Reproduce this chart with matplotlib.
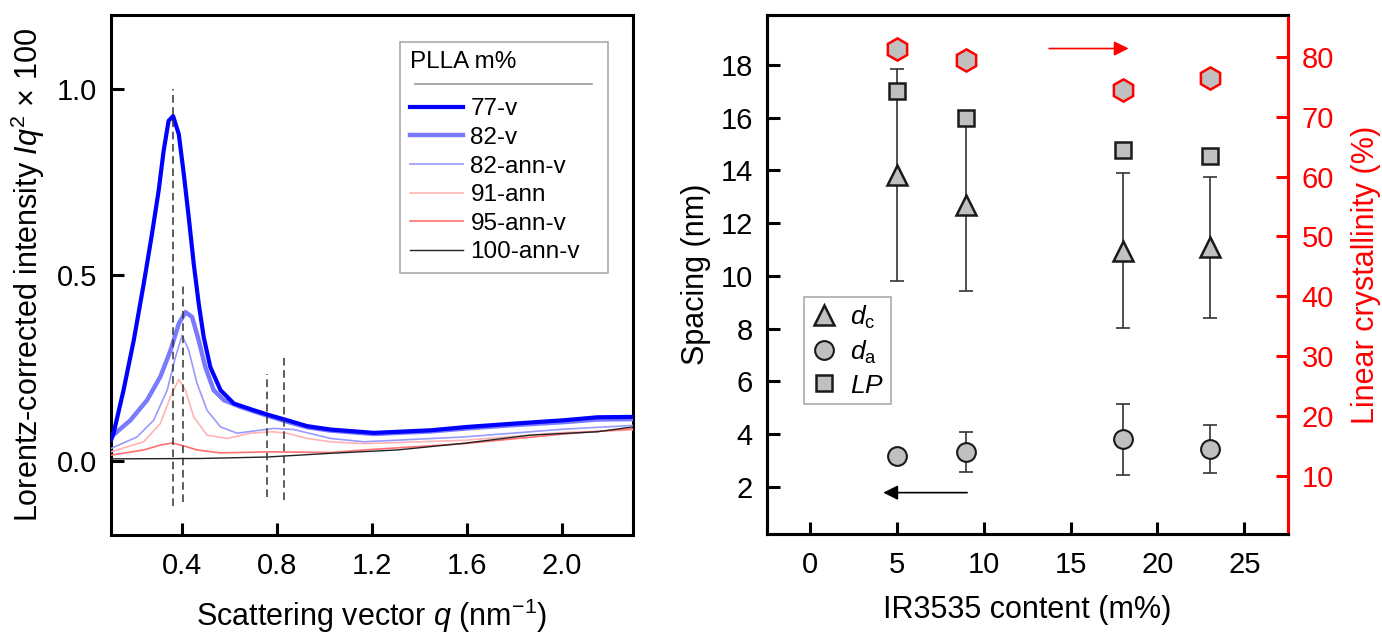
import matplotlib
matplotlib.use("Agg")
import matplotlib.pyplot as plt
from matplotlib.lines import Line2D

plt.rcParams['font.family'] = ['Liberation Sans', 'DejaVu Sans']
plt.rcParams['mathtext.fontset'] = 'custom'
plt.rcParams['mathtext.rm'] = 'Liberation Sans'
plt.rcParams['mathtext.it'] = 'Liberation Sans:italic'

# ---- left panel: Lorentz-corrected SAXS curves ----
q77 = [0.10, 0.111, 0.153, 0.196, 0.238, 0.273, 0.301, 0.322, 0.343, 0.362, 0.386, 0.407,
       0.428, 0.449, 0.47, 0.491, 0.519, 0.562, 0.618, 0.702, 0.766, 0.843, 0.928, 1.026,
       1.209, 1.449, 1.603, 1.80, 2.011, 2.152, 2.30]
i77 = [0.055, 0.074, 0.19, 0.324, 0.476, 0.611, 0.727, 0.834, 0.915, 0.928, 0.879, 0.772,
       0.655, 0.53, 0.423, 0.333, 0.252, 0.19, 0.154, 0.136, 0.123, 0.109, 0.093, 0.084,
       0.075, 0.082, 0.091, 0.10, 0.109, 0.117, 0.118]

q82 = [0.10, 0.182, 0.252, 0.308, 0.351, 0.386, 0.414, 0.442, 0.47, 0.498, 0.533, 0.576,
       0.646, 0.702, 0.766, 0.843, 0.928, 1.026, 1.209, 1.449, 1.603, 1.80, 2.011, 2.152, 2.30]
i82 = [0.064, 0.109, 0.163, 0.226, 0.297, 0.369, 0.40, 0.387, 0.324, 0.252, 0.19, 0.163,
       0.145, 0.133, 0.12, 0.105, 0.09, 0.081, 0.072, 0.079, 0.087, 0.096, 0.104, 0.111, 0.112]

q82a = [0.10, 0.21, 0.28, 0.337, 0.372, 0.40, 0.428, 0.463, 0.505, 0.562, 0.632, 0.702,
        0.787, 0.871, 1.026, 1.167, 1.589, 2.01, 2.30]
i82a = [0.033, 0.064, 0.109, 0.19, 0.279, 0.338, 0.297, 0.208, 0.136, 0.091, 0.074, 0.08,
        0.087, 0.084, 0.06, 0.051, 0.064, 0.085, 0.095]

q91 = [0.10, 0.238, 0.308, 0.351, 0.386, 0.414, 0.449, 0.505, 0.59, 0.688, 0.78, 0.843,
       0.928, 1.026, 1.167, 1.589, 2.01, 2.30]
i91 = [0.024, 0.051, 0.10, 0.172, 0.219, 0.19, 0.118, 0.069, 0.06, 0.074, 0.078, 0.074,
       0.06, 0.051, 0.046, 0.055, 0.076, 0.083]

q95 = [0.10, 0.238, 0.308, 0.358, 0.407, 0.463, 0.562, 0.766, 1.026, 1.167, 1.589, 2.01, 2.30]
i95 = [0.015, 0.029, 0.042, 0.048, 0.04, 0.029, 0.021, 0.024, 0.022, 0.029, 0.046, 0.072, 0.086]

q100 = [0.10, 0.477, 0.759, 1.026, 1.308, 1.589, 1.87, 2.152, 2.30]
i100 = [0.005, 0.006, 0.01, 0.02, 0.029, 0.047, 0.069, 0.078, 0.091]

# peak markers (dashed lines)
peak_q = [0.36, 0.405, 0.759, 0.831]
peak_lo = [-0.122, -0.111, -0.097, -0.106]
peak_hi = [1.0, 0.472, 0.233, 0.281]

# ---- right panel ----
content = [5, 9, 18, 23]
dc = [13.82, 12.68, 10.96, 11.08]
dc_err = [4.03, 3.24, 2.93, 2.67]
da = [3.15, 3.3, 3.8, 3.43]
da_err = [0.0, 0.76, 1.35, 0.9]
lp = [17.0, 16.0, 14.78, 14.56]
xc = [81.3, 79.4, 74.4, 76.4]

fig = plt.figure(figsize=(13.82, 6.33), dpi=100)
ax1 = fig.add_axes([0.0803, 0.1548, 0.3775, 0.8215])
ax2 = fig.add_axes([0.5548, 0.1564, 0.3770, 0.8199])

# left panel
ax1.plot(q77, i77, color='#0000ff', lw=3, label='77-v', zorder=6)
ax1.plot(q82, i82, color='#7a7aff', lw=3.2, label='82-v', zorder=5)
ax1.plot(q82a, i82a, color='#9a9aff', lw=1.2, label='82-ann-v', zorder=4)
ax1.plot(q91, i91, color='#ffb4b4', lw=1.2, label='91-ann', zorder=3)
ax1.plot(q95, i95, color='#ff7070', lw=1.2, label='95-ann-v', zorder=3)
ax1.plot(q100, i100, color='#222222', lw=1.0, label='100-ann-v', zorder=3)
for x, lo, hi in zip(peak_q, peak_lo, peak_hi):
    ax1.plot([x, x], [lo, hi], color='#333333', lw=1.1, ls=(0, (5, 3)), zorder=7)

ax1.set_xlim(0.1, 2.3)
ax1.set_ylim(-0.2, 1.2)
ax1.set_xticks([0.4, 0.8, 1.2, 1.6, 2.0])
ax1.set_yticks([0.0, 0.5, 1.0])
ax1.set_xticklabels(['0.4', '0.8', '1.2', '1.6', '2.0'])
ax1.set_yticklabels(['0.0', '0.5', '1.0'])
ax1.set_xlabel(r'Scattering vector $q$ (nm$^{-1}$)', fontsize=22, labelpad=12)
ax1.set_ylabel(r'Lorentz-corrected intensity $Iq^2$ $\times$ 100', fontsize=22, labelpad=7)

leg1 = ax1.legend(title='PLLA m%', loc='upper left',
                  bbox_to_anchor=(0.554, 0.505, 0.398, 0.4437), mode='expand',
                  borderaxespad=0, fontsize=17.5, title_fontsize=17.5, frameon=True,
                  fancybox=False, edgecolor='#aaaaaa', framealpha=1,
                  handlelength=2.2, handletextpad=0.3, labelspacing=0.27,
                  borderpad=0.4, alignment='left')
leg1.get_frame().set_linewidth(1.2)
leg1._legend_box.sep = 18
sep_line = Line2D([0.583, 0.922], [0.867, 0.867], transform=ax1.transAxes,
                  color='#999999', lw=1.2, zorder=20)
ax1.add_line(sep_line)

# right panel
ax3 = ax2.twinx()
ax2.errorbar(content, dc, yerr=dc_err, fmt='none', ecolor='#333333', elinewidth=1.2,
             capsize=5, capthick=1.2, zorder=2)
ax2.errorbar(content, da, yerr=da_err, fmt='none', ecolor='#333333', elinewidth=1.2,
             capsize=5, capthick=1.2, zorder=2)
ax2.plot(content, lp, 's', ms=12, mfc='#c0c0c0', mec='#1a1a1a', mew=1.8, zorder=3)
ax2.plot(content, dc, '^', ms=15, mfc='#c0c0c0', mec='#1a1a1a', mew=1.8, zorder=3)
ax2.plot(content, da, 'o', ms=13.5, mfc='#c0c0c0', mec='#1a1a1a', mew=1.5, zorder=3)
ax3.plot(content, xc, 'h', ms=16, mfc='#c0c0c0', mec='#ff0000', mew=1.8, zorder=3)

ax2.set_xlim(-2.5, 27.5)
ax2.set_ylim(0.2, 19.9)
ax3.set_ylim(0.3, 87)
ax2.set_xticks([0, 5, 10, 15, 20, 25])
ax2.set_yticks([2, 4, 6, 8, 10, 12, 14, 16, 18])
ax3.set_yticks([10, 20, 30, 40, 50, 60, 70, 80])
ax2.set_xlabel('IR3535 content (m%)', fontsize=22, labelpad=12)
ax2.set_ylabel('Spacing (nm)', fontsize=22, labelpad=7)
ax3.set_ylabel('Linear crystallinity (%)', fontsize=22, color='#ff0000', labelpad=12)

ax2.annotate('', xy=(4.05, 1.77), xytext=(9.2, 1.77),
             arrowprops=dict(arrowstyle='-|>', color='black', lw=1.2, mutation_scale=22))
ax3.annotate('', xy=(18.5, 81.4), xytext=(13.6, 81.4),
             arrowprops=dict(arrowstyle='-|>', color='#ff0000', lw=1.2, mutation_scale=22))

handles = [Line2D([], [], ls='none', marker='^', ms=15, mfc='#c0c0c0', mec='#1a1a1a', mew=1.8),
           Line2D([], [], ls='none', marker='o', ms=13.5, mfc='#c0c0c0', mec='#1a1a1a', mew=1.5),
           Line2D([], [], ls='none', marker='s', ms=12, mfc='#c0c0c0', mec='#1a1a1a', mew=1.8)]
leg2 = ax2.legend(handles, [r'$d_{\mathrm{c}}$', r'$d_{\mathrm{a}}$', r'$LP$'],
                  loc='upper left', bbox_to_anchor=(0.0716, 0.457), borderaxespad=0,
                  fontsize=19, frameon=True, fancybox=False, edgecolor='#aaaaaa',
                  framealpha=1, handlelength=1.0, handletextpad=0.5, labelspacing=0.3,
                  borderpad=0.25)
leg2.get_frame().set_linewidth(1.2)

for ax in (ax1, ax2, ax3):
    for sp in ax.spines.values():
        sp.set_linewidth(2.2)
    ax.tick_params(direction='in', length=9, width=2.2, labelsize=21, pad=10)
ax1.tick_params(axis='x', pad=12)
ax2.tick_params(axis='x', pad=12)
ax2.tick_params(right=False)
ax3.spines['right'].set_color('#ff0000')
ax3.tick_params(axis='y', colors='#ff0000')

fig.savefig('out.png', dpi=100)
